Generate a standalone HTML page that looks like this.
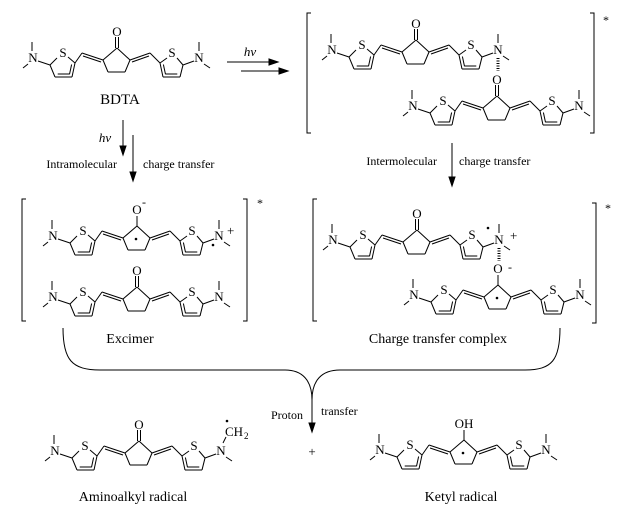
<!DOCTYPE html>
<html><head><meta charset="utf-8"><style>
html,body{margin:0;padding:0;background:#fff;}
svg{display:block;}
text{font-family:"Liberation Serif",serif;fill:#000;}
</style></head><body>
<svg id="s" width="628" height="517" viewBox="0 0 628 517" xmlns="http://www.w3.org/2000/svg">
<g stroke="#000" stroke-width="1" fill="none">
<line x1="227" y1="62" x2="272" y2="62"/><polygon points="278,62 269,59 269,65" fill="#000"/>
<line x1="241" y1="71" x2="281" y2="71"/><polygon points="288,71 279,68 279,74" fill="#000"/>
<line x1="123" y1="120" x2="123" y2="148"/><polygon points="123,155 120,146 126,146" fill="#000"/>
<line x1="133" y1="135" x2="133" y2="174"/><polygon points="133,181 130,172 136,172" fill="#000"/>
<line x1="452" y1="143" x2="452" y2="179"/><polygon points="452,186 449,177 455,177" fill="#000"/>
<polyline points="311,13 307,13 307,133 311,133"/><polyline points="590,13 594,13 594,133 590,133"/>
<polyline points="26,199 22,199 22,321 26,321"/><polyline points="243,199 247,199 247,321 243,321"/>
<polyline points="317,199 313,199 313,321 317,321"/><polyline points="592,203 596,203 596,323 592,323"/>
<path d="M63,328 C63,360 72,370 100,370 L285,370 C302,370 312,380 312,400 C312,380 322,370 340,370 L525,370 C552,370 560,360 560,328"/>
<line x1="312" y1="400" x2="312" y2="425"/><polygon points="312,432 309,423 315,423" fill="#000"/>
</g>
<g font-size="13">
<text x="250" y="56" font-style="italic" text-anchor="middle">hv</text>
<text x="105" y="142" font-style="italic" text-anchor="middle">hv</text>
<text x="120" y="104" text-anchor="middle" font-size="15">BDTA</text>
<text x="117" y="168" text-anchor="end" font-size="12">Intramolecular</text>
<text x="143" y="168" font-size="12">charge transfer</text>
<text x="437" y="165" text-anchor="end" font-size="12">Intermolecular</text>
<text x="459" y="165" font-size="12">charge transfer</text>
<text x="603" y="24" font-size="12">*</text>
<text x="257" y="207" font-size="12">*</text>
<text x="605" y="212" font-size="12">*</text>
<text x="130" y="343" text-anchor="middle" font-size="14">Excimer</text>
<text x="438" y="343" text-anchor="middle" font-size="14">Charge transfer complex</text>
<text x="303" y="419" text-anchor="end" font-size="12">Proton</text>
<text x="321" y="415" font-size="12">transfer</text>
<text x="312" y="456" text-anchor="middle" font-size="13">+</text>
<text x="133" y="501" text-anchor="middle" font-size="14">Aminoalkyl radical</text>
<text x="461" y="501" text-anchor="middle" font-size="14">Ketyl radical</text>
</g>
<g id="mols"></g>
</svg>
<script>
(function(){
var NS="http://www.w3.org/2000/svg",root=document.getElementById("mols");
function el(t,a,txt){var e=document.createElementNS(NS,t);for(var k in a)e.setAttribute(k,a[k]);if(txt!=null)e.textContent=txt;root.appendChild(e);return e;}
function L(x1,y1,x2,y2,dx,dy,extra){var a={x1:x1+dx,y1:y1+dy,x2:x2+dx,y2:y2+dy,stroke:"#000","stroke-width":1};for(var k in extra)a[k]=extra[k];el("line",a);}
function T(x,y,s,dx,dy,sz,anchor){el("text",{x:x+dx,y:y+dy,"font-size":sz||13,"text-anchor":anchor||"middle"},s);}
function D(x,y,dx,dy){el("circle",{cx:x+dx,cy:y+dy,r:1.3,fill:"#000"});}
function inner(x1,y1,x2,y2,cx,cy,dx,dy){
 var mx=(x1+x2)/2,my=(y1+y2)/2,vx=cx-mx,vy=cy-my,l=Math.hypot(vx,vy);vx=vx/l*3;vy=vy/l*3;
 var sx=x2-x1,sy=y2-y1;
 L(x1+vx+sx*0.15,y1+vy+sy*0.15,x2+vx-sx*0.15,y2+vy-sy*0.15,dx,dy);}
function mol(dx,dy,o){
 o=o||{};
 T(33,62,"N",dx,dy);
 L(32,42,32,51,dx,dy);L(23,68,28,64,dx,dy);L(38,61,50,65,dx,dy);
 T(63,57,"S",dx,dy);
 var lc=[64,68];
 L(50,65,57,58,dx,dy);L(68,57,75,63,dx,dy);L(75,63,72,77,dx,dy);L(72,77,55,77,dx,dy);L(55,77,50,65,dx,dy);
 inner(75,63,72,77,lc[0],lc[1],dx,dy);inner(72,77,55,77,lc[0],lc[1],dx,dy);
 L(75,63,82,53,dx,dy);L(82,53,103,60,dx,dy);L(83,56,101,62,dx,dy);
 L(103,60,117,48,dx,dy);L(117,48,130,60,dx,dy);L(130,60,125,72,dx,dy);L(125,72,108,72,dx,dy);L(108,72,103,60,dx,dy);
 if(o.ring){D(116,61,dx,dy);}
 if(o.oh){L(117,48,117,38,dx,dy);T(117,36,"OH",dx,dy);}
 else if(o.om){L(117,48,117,38,dx,dy);T(117,36,"O",dx,dy);T(124,28,"-",dx,dy,12);}
 else if(o.om2){L(117,48,117,38,dx,dy);T(117,36,"O",dx,dy);T(129,34,"-",dx,dy,12);}
 else {L(115.5,48,115.5,37,dx,dy);L(118.5,48,118.5,37,dx,dy);T(117,36,"O",dx,dy);}
 L(130,60,150,53,dx,dy);L(132,62,149,56,dx,dy);L(150,53,160,63,dx,dy);
 T(172,57,"S",dx,dy);
 var rc=[171,68];
 L(160,63,167,58,dx,dy);L(177,58,183,65,dx,dy);L(183,65,180,77,dx,dy);L(180,77,163,77,dx,dy);L(163,77,160,63,dx,dy);
 inner(160,63,163,77,rc[0],rc[1],dx,dy);inner(180,77,163,77,rc[0],rc[1],dx,dy);
 L(183,65,194,61,dx,dy);
 T(199,62,"N",dx,dy);
 if(o.ch2){L(201,50,204,44,dx,dy);T(203,43,"CH",dx,dy,13,"start");T(222,46,"2",dx,dy,9,"start");D(205,28,dx,dy);}
 else L(199,42,199,51,dx,dy);
 L(210,68,204,64,dx,dy);
 if(o.plusBelow){D(193,67,dx,dy);T(207,57,"+",dx,dy,13,"start");}
 if(o.plusAbove){D(188,46,dx,dy);T(210,58,"+",dx,dy,13,"start");}
}
mol(0,0);
mol(299,-8);mol(380,48);
L(498,58,498,71,0,0,{"stroke-width":3,"stroke-dasharray":"1,1.5"});
mol(20,178,{om:1,ring:1,plusBelow:1});mol(20,239);
mol(300,182,{plusAbove:1});mol(381,237,{om2:1,ring:1});
L(499,248,499,261,0,0,{"stroke-width":3,"stroke-dasharray":"1,1.5"});
mol(22,393,{ch2:1});
mol(347,392,{oh:1,ring:1});
})();
</script>
</body></html>
